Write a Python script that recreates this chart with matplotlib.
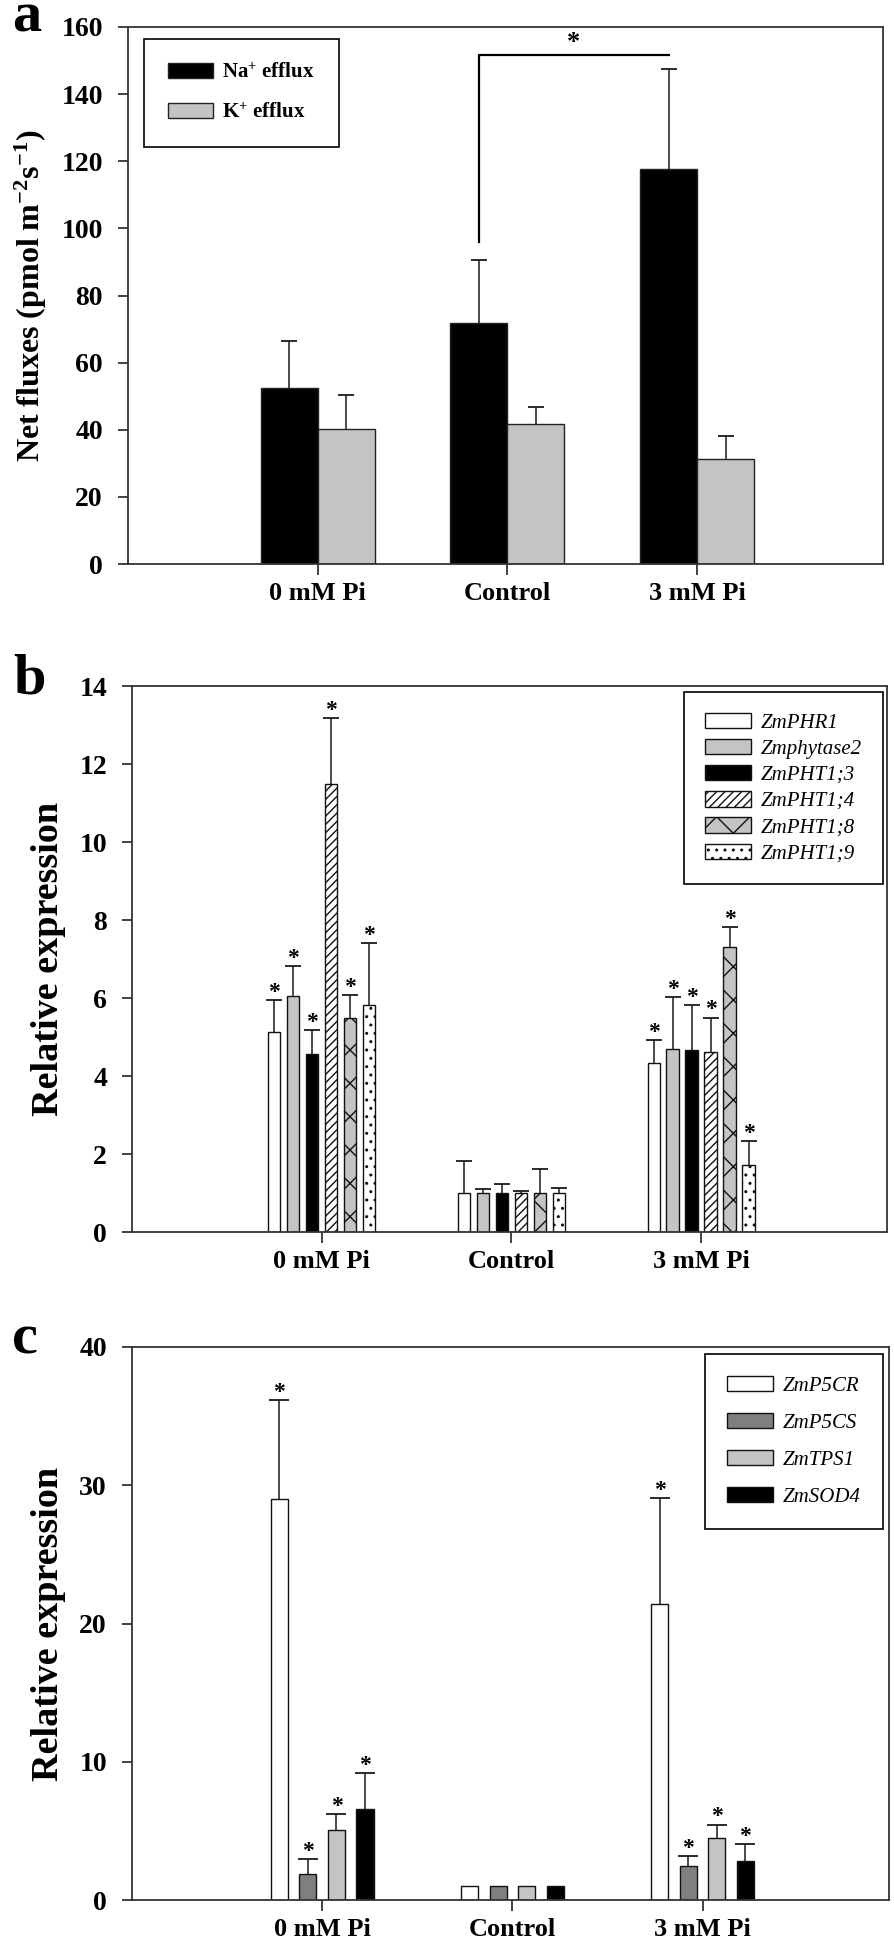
import matplotlib
matplotlib.use('Agg')
import matplotlib.pyplot as plt
import numpy as np

plt.rcParams['font.family'] = ['Liberation Serif', 'DejaVu Serif']
plt.rcParams['mathtext.fontset'] = 'custom'
plt.rcParams['mathtext.rm'] = 'Liberation Serif:bold'
plt.rcParams['mathtext.bf'] = 'Liberation Serif:bold'
plt.rcParams['mathtext.default'] = 'bf'
plt.rcParams['hatch.linewidth'] = 1.0

W, H, DPI = 894, 1938, 100

# ---------------- data ----------------
groups = ['0 mM Pi', 'Control', '3 mM Pi']

# panel a
ion_labels = ['Na$^{+}$ efflux', 'K$^{+}$ efflux']
na_mean = [52.3, 71.7, 117.8]
na_err = [14.0, 18.9, 29.7]
k_mean = [40.3, 41.7, 31.3]
k_err = [10.0, 5.2, 6.7]
sig_bracket_y = 151.7
sig_bracket_drop = 95.9

# panel b
genes_b = ['ZmPHR1', 'Zmphytase2', 'ZmPHT1;3', 'ZmPHT1;4', 'ZmPHT1;8', 'ZmPHT1;9']
phr1 = [5.12, 1.0, 4.33]
phr1_err = [0.82, 0.83, 0.59]
phytase2 = [6.06, 1.0, 4.70]
phytase2_err = [0.77, 0.09, 1.33]
pht13 = [4.56, 1.0, 4.67]
pht13_err = [0.61, 0.22, 1.16]
pht14 = [11.48, 1.0, 4.62]
pht14_err = [1.69, 0.04, 0.88]
pht18 = [5.48, 1.0, 7.31]
pht18_err = [0.60, 0.61, 0.50]
pht19 = [5.81, 1.0, 1.72]
pht19_err = [1.59, 0.14, 0.62]
sig_b = [True, False, True]

# panel c
genes_c = ['ZmP5CR', 'ZmP5CS', 'ZmTPS1', 'ZmSOD4']
p5cr = [28.99, 1.0, 21.4]
p5cr_err = [7.2, 0.0, 7.65]
p5cs = [1.88, 1.0, 2.46]
p5cs_err = [1.06, 0.0, 0.69]
tps1 = [5.06, 1.0, 4.46]
tps1_err = [1.14, 0.0, 1.0]
sod4 = [6.58, 1.0, 2.79]
sod4_err = [2.58, 0.0, 1.27]
sig_c = [True, False, True]

# ---------------- figure ----------------
fig = plt.figure(figsize=(W / DPI, H / DPI), dpi=DPI)


def px_axes(l, t, r, b):
    return fig.add_axes([l / W, 1 - b / H, (r - l) / W, (b - t) / H])


def style_axes(ax, ylim, yticks, xlim=(0.0, 3.98)):
    ax.set_xlim(*xlim)
    ax.set_ylim(*ylim)
    ax.set_yticks(yticks)
    ax.set_yticklabels([str(int(v)) for v in yticks], fontsize=20, fontweight='bold')
    ax.set_xticks(np.arange(1, len(groups) + 1))
    ax.set_xticklabels(groups, fontsize=19, fontweight='bold')
    for sp in ax.spines.values():
        sp.set_linewidth(1.3)
        sp.set_color('#333333')
    ax.tick_params(axis='y', direction='out', length=7, width=1.2, pad=11, colors='#222222')
    ax.tick_params(axis='x', direction='out', length=8, width=1.2, pad=5, colors='#222222')
    for lab in ax.get_xticklabels() + ax.get_yticklabels():
        lab.set_color('black')


def up_err(ax, x, mean, err, cap=5):
    x = np.asarray(x, float)
    mean = np.asarray(mean, float)
    err = np.asarray(err, float)
    m = err > 0
    if not m.any():
        return
    _, caps, _ = ax.errorbar(x[m], mean[m], yerr=[np.zeros(m.sum()), err[m]], fmt='none',
                             ecolor='#1a1a1a', elinewidth=1.1, capsize=cap, capthick=1.3,
                             zorder=3)
    if len(caps) == 2:
        caps[0].set_visible(False)


def stars(ax, x, mean, err, sig, fs=17):
    for xi, mi, ei, s in zip(x, mean, err, sig):
        if s:
            ax.annotate('*', xy=(xi, mi + ei), xytext=(0, 1.5), textcoords='offset points',
                        ha='center', va='baseline', fontsize=fs, fontweight='bold')


gx = np.arange(1, len(groups) + 1)

# ---------------- panel a ----------------
axa = px_axes(128, 27, 883, 564)
bw_a = 0.3
x_na = gx - bw_a / 2
x_k = gx + bw_a / 2
axa.bar(x_na, na_mean, bw_a, color='black', edgecolor='#222222', linewidth=1.0,
        label=ion_labels[0], zorder=2)
axa.bar(x_k, k_mean, bw_a, color='#c4c4c4', edgecolor='#222222', linewidth=1.0,
        label=ion_labels[1], zorder=2)
up_err(axa, x_na, na_mean, na_err, cap=6)
up_err(axa, x_k, k_mean, k_err, cap=6)
style_axes(axa, (0, 160), np.arange(0, 161, 20))
axa.set_ylabel('Net fluxes (pmol m$^{-2}$s$^{-1}$)', fontsize=23, fontweight='bold')
axa.yaxis.set_label_coords((49 - 128) / 755, 0.5)
# significance bracket between Control and 3 mM Na+ bars
axa.plot([x_na[1], x_na[1], x_na[2]], [sig_bracket_drop, sig_bracket_y, sig_bracket_y],
         color='black', linewidth=1.6, zorder=4)
axa.annotate('*', xy=((x_na[1] + x_na[2]) / 2, sig_bracket_y), xytext=(0, 4),
             textcoords='offset points', ha='center', va='baseline',
             fontsize=19, fontweight='bold')
lega = axa.legend(loc='upper left', bbox_to_anchor=((144 - 128) / 755, 1 - (39 - 27) / 537),
                  borderaxespad=0, fancybox=False, edgecolor='black', framealpha=1,
                  prop={'family': 'Liberation Serif', 'weight': 'bold', 'size': 15},
                  handlelength=2.15, handleheight=0.75, handletextpad=0.45,
                  labelspacing=0.95, borderpad=1.15)
lega.get_frame().set_linewidth(1.2)

# ---------------- panel b ----------------
axb = px_axes(132, 686, 887, 1232)
bw_b = 0.065
step_b = 0.1
means_b = [phr1, phytase2, pht13, pht14, pht18, pht19]
errs_b = [phr1_err, phytase2_err, pht13_err, pht14_err, pht18_err, pht19_err]
colors_b = ['white', '#c4c4c4', 'black', 'white', '#c4c4c4', 'white']
hatches_b = [None, None, None, '////', 'x', '..']
nb = len(genes_b)
for i in range(nb):
    xs = gx + (i - (nb - 1) / 2) * step_b
    axb.bar(xs, means_b[i], bw_b, color=colors_b[i], edgecolor='#111111', linewidth=1.0,
            hatch=hatches_b[i], label=genes_b[i], zorder=2)
    up_err(axb, xs, means_b[i], errs_b[i], cap=6)
    stars(axb, xs, means_b[i], errs_b[i], sig_b)
style_axes(axb, (0, 14), np.arange(0, 15, 2))
axb.set_ylabel('Relative expression', fontsize=27.5, fontweight='bold')
axb.yaxis.set_label_coords((66 - 132) / 755, 0.5)
legb = axb.legend(loc='upper right', bbox_to_anchor=(1 - (887 - 883) / 755, 1 - (692 - 686) / 546),
                  borderaxespad=0, fancybox=False, edgecolor='black', framealpha=1,
                  prop={'family': 'Liberation Serif', 'style': 'italic', 'size': 15},
                  handlelength=2.2, handleheight=0.75, handletextpad=0.5,
                  labelspacing=0.3, borderpad=1.0)
legb.get_frame().set_linewidth(1.2)

# ---------------- panel c ----------------
axc = px_axes(132, 1347, 889, 1900)
bw_c = 0.09
step_c = 0.15
means_c = [p5cr, p5cs, tps1, sod4]
errs_c = [p5cr_err, p5cs_err, tps1_err, sod4_err]
colors_c = ['white', '#7f7f7f', '#c4c4c4', 'black']
nc = len(genes_c)
for i in range(nc):
    xs = gx + (i - (nc - 1) / 2) * step_c
    axc.bar(xs, means_c[i], bw_c, color=colors_c[i], edgecolor='#111111', linewidth=1.0,
            label=genes_c[i], zorder=2)
    up_err(axc, xs, means_c[i], errs_c[i], cap=7)
    stars(axc, xs, means_c[i], errs_c[i], sig_c)
style_axes(axc, (0, 40), np.arange(0, 41, 10))
axc.set_ylabel('Relative expression', fontsize=27.5, fontweight='bold')
axc.yaxis.set_label_coords((66 - 132) / 757, 0.5)
legc = axc.legend(loc='upper right', bbox_to_anchor=(1 - (889 - 883) / 757, 1 - (1354 - 1347) / 553),
                  borderaxespad=0, fancybox=False, edgecolor='black', framealpha=1,
                  prop={'family': 'Liberation Serif', 'style': 'italic', 'size': 15},
                  handlelength=2.2, handleheight=0.75, handletextpad=0.5,
                  labelspacing=0.82, borderpad=1.05)
legc.get_frame().set_linewidth(1.2)

# ---------------- panel letters ----------------
for letter, (x, y) in zip(['a', 'b', 'c'], [(12, 32), (13, 693), (12, 1353)]):
    fig.text(x / W, 1 - y / H, letter, fontsize=42, fontweight='bold',
             ha='left', va='baseline')

fig.savefig('out.png', dpi=DPI, facecolor='white')
